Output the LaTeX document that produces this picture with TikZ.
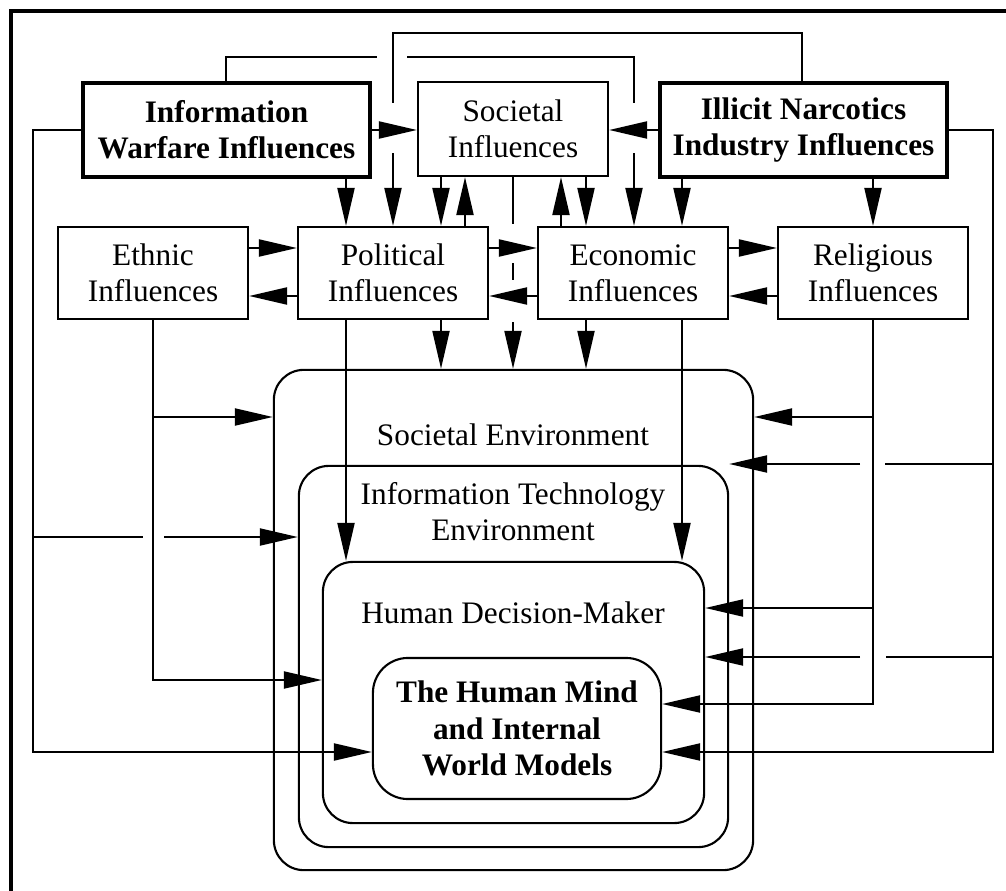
\documentclass[tikz,border=0pt]{standalone}
\usepackage{fontspec}
\setmainfont{Liberation Serif}
\usetikzlibrary{arrows.meta}

\tikzset{
  >={Triangle[length=0.38cm,width=0.17cm]},
  every node/.style={font=\fontsize{8.9}{10.2}\selectfont},
  influence/.style={draw, line width=0.6pt, align=center, inner sep=0pt,
    minimum width=1.9cm, minimum height=0.92cm},
  source/.style={draw, line width=1.3pt, align=center, inner sep=0pt,
    minimum width=2.87cm, minimum height=0.94cm, font=\fontsize{8.9}{10.2}\selectfont\bfseries},
  envbox/.style={draw, line width=0.6pt, rounded corners=0.3cm, inner sep=0pt},
}

\begin{document}
\begin{tikzpicture}[x=0.01cm, y=-0.01cm, line width=0.6pt]
  \useasboundingbox (0,0) rectangle (1006,891);

  % cadre
  \draw[line width=0.9pt] (11,891) -- (11,11) -- (1006,11);

  % sources
  \node[source] at (226.5,130) (IW) {Information\\Warfare Influences};
  \node[influence, minimum height=0.94cm] at (513,129) (SI) {Societal\\Influences};
  \node[source] at (803.5,130) (IN) {Illicit Narcotics\\Industry Influences};

  % influences
  \node[influence] at (153,273) (EI) {Ethnic\\Influences};
  \node[influence] at (393,273) (PI) {Political\\Influences};
  \node[influence] at (633,273) (EC) {Economic\\Influences};
  \node[influence] at (873,273) (RI) {Religious\\Influences};

  % environnements
  \node[envbox, minimum width=4.79cm, minimum height=5cm] at (513.5,620) (SE) {};
  \node[envbox, minimum width=4.29cm, minimum height=3.81cm] at (513.5,656.5) (ITE) {};
  \node[envbox, minimum width=3.81cm, minimum height=2.61cm] at (513.5,692.5) (HDM) {};
  \node[envbox, minimum width=2.88cm, minimum height=1.41cm, rounded corners=0.35cm,
    align=center, font=\fontsize{8.9}{10.4}\selectfont\bfseries] at (517,728.5) (Mind)
    {The Human Mind\\and Internal\\World Models};
  \node at (513,435) (SElab) {Societal Environment};
  \node[align=center] at (513,512) (ITElab) {Information Technology\\Environment};
  \node at (513,613) (HDMlab) {Human Decision-Maker};

  % voies
  \coordinate (xa) at (226,0);  \coordinate (xb) at (346,0);
  \coordinate (xc) at (393,0);  \coordinate (xd) at (441,0);
  \coordinate (xe) at (465,0);  \coordinate (xf) at (513,0);
  \coordinate (xg) at (561,0);  \coordinate (xh) at (586,0);
  \coordinate (xi) at (634,0);  \coordinate (xj) at (682,0);
  \coordinate (xk) at (802,0);  \coordinate (xl) at (873,0);
  \coordinate (xm) at (993,0);  \coordinate (xn) at (33,0);
  \coordinate (xo) at (153,0);
  \coordinate (ya) at (0,33);   \coordinate (yb) at (0,57);
  \coordinate (yu) at (0,248);  \coordinate (yv) at (0,296);
  \coordinate (yc) at (0,417);  \coordinate (yd) at (0,464);
  \coordinate (ye) at (0,537);  \coordinate (yf) at (0,608);
  \coordinate (yg) at (0,657);  \coordinate (yh) at (0,680);
  \coordinate (yi) at (0,704);  \coordinate (yj) at (0,752);

  % boucles du haut
  \draw (IW.north -| xa) |- ([xshift=-0.16cm]xc |- yb);
  \draw ([xshift=0.14cm]xc |- yb) -| ([yshift=0.26cm]xi |- SI.east);
  \draw[->] ([yshift=-0.24cm]xi |- SI.east) -- (xi |- EC.north);
  \draw (IN.north -| xk) |- (xc |- ya) -- ([yshift=0.26cm]xc |- SI.west);
  \draw[->] ([yshift=-0.24cm]xc |- SI.west) -- (xc |- PI.north);

  \draw[->] (IW.east) -- (IW.east -| SI.west);
  \draw[->] (IN.west) -- (IN.west -| SI.east);

  % vers la 2e rangee
  \draw[->] (IW.south -| xb) -- (PI.north -| xb);
  \draw[->] (SI.south -| xd) -- (PI.north -| xd);
  \draw[->] (PI.north -| xe) -- (SI.south -| xe);
  \draw[->] (EC.north -| xg) -- (SI.south -| xg);
  \draw[->] (SI.south -| xh) -- (EC.north -| xh);
  \draw[->] (IN.south -| xj) -- (EC.north -| xj);
  \draw[->] (IN.south -| xl) -- (RI.north -| xl);

  \draw (SI.south -| xf) -- ([yshift=0.24cm]xf |- yu);
  \draw ([yshift=-0.15cm]xf |- yu) -- ([yshift=0.16cm]xf |- yv);
  \draw[->] ([yshift=-0.26cm]xf |- yv) -- (xf |- SE.north);

  \draw[->] (EI.east |- yu) -- (PI.west |- yu);
  \draw[->] (PI.west |- yv) -- (EI.east |- yv);
  \draw[->] (PI.east |- yu) -- (EC.west |- yu);
  \draw[->] (EC.west |- yv) -- (PI.east |- yv);
  \draw[->] (EC.east |- yu) -- (RI.west |- yu);
  \draw[->] (RI.west |- yv) -- (EC.east |- yv);

  % vers les environnements
  \draw[->] (PI.south -| xb) -- (HDM.north -| xb);
  \draw[->] (PI.south -| xd) -- (SE.north -| xd);
  \draw[->] (EC.south -| xh) -- (SE.north -| xh);
  \draw[->] (EC.south -| xj) -- (HDM.north -| xj);

  % gauche
  \draw[->] (IW.west) -| (xn |- yj) -- (Mind.west |- yj);
  \draw (xn |- ye) -- ([xshift=-0.1cm]xo |- ye);
  \draw[->] ([xshift=0.11cm]xo |- ye) -- (ITE.west |- ye);
  \draw[->] (EI.south -| xo) |- (HDM.west |- yh);
  \draw[->] (xo |- yc) -- (SE.west |- yc);

  % droite
  \draw[->] (RI.south -| xl) |- (Mind.east |- yi);
  \draw[->] (xl |- yc) -- (SE.east |- yc);
  \draw[->] (xl |- yf) -- (HDM.east |- yf);
  \draw[->] (IN.east) -| (xm |- yj) -- (Mind.east |- yj);
  \draw (xm |- yd) -- ([xshift=0.12cm]xl |- yd);
  \draw[->] ([xshift=-0.13cm]xl |- yd) -- (ITE.east |- yd);
  \draw (xm |- yg) -- ([xshift=0.13cm]xl |- yg);
  \draw[->] ([xshift=-0.13cm]xl |- yg) -- (HDM.east |- yg);
\end{tikzpicture}
\end{document}
